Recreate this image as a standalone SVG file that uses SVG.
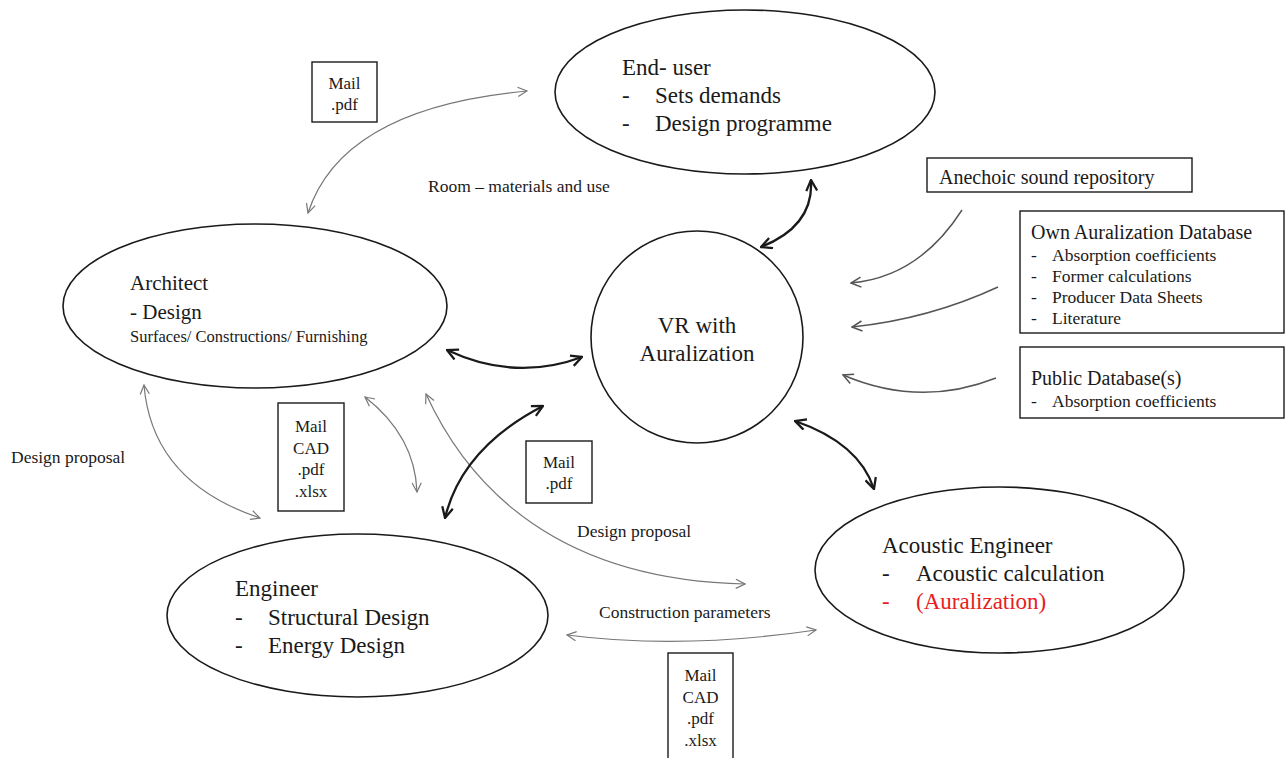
<svg xmlns="http://www.w3.org/2000/svg" width="1285" height="758" viewBox="0 0 1285 758">
<style>
text{font-family:"Liberation Serif","Times New Roman",serif;fill:#1a1a1a}
.big{font-size:23px}
.arch{font-size:21px}
.ttl{font-size:20px}
.med{font-size:17.5px}
.mail{font-size:17px}
.node{fill:none;stroke:#1a1a1a;stroke-width:1.6}
.box{fill:#fff;stroke:#1a1a1a;stroke-width:1.4}
.thin{fill:none;stroke:#777;stroke-width:1.2;marker-start:url(#ht);marker-end:url(#ht)}
.thin1{fill:none;stroke:#555;stroke-width:1.4;marker-end:url(#ht1)}
.thick{fill:none;stroke:#1a1a1a;stroke-width:2.3;marker-start:url(#hk);marker-end:url(#hk)}
</style>
<defs>
<marker id="ht" viewBox="0 0 12 12" refX="11" refY="6" markerWidth="11" markerHeight="11" markerUnits="userSpaceOnUse" orient="auto-start-reverse">
<path d="M1,1 L11,6 L1,11" fill="none" stroke="#777" stroke-width="1.3"/>
</marker>
<marker id="ht1" viewBox="0 0 12 12" refX="11" refY="6" markerWidth="12" markerHeight="12" markerUnits="userSpaceOnUse" orient="auto">
<path d="M1,1 L11,6 L1,11" fill="none" stroke="#555" stroke-width="1.5"/>
</marker>
<marker id="hk" viewBox="0 0 12 12" refX="11" refY="6" markerWidth="13" markerHeight="13" markerUnits="userSpaceOnUse" orient="auto-start-reverse">
<path d="M1,1 L11,6 L1,11" fill="none" stroke="#1a1a1a" stroke-width="2.1"/>
</marker>
</defs>

<g id="connectors">
<path class="thin" d="M308,213 Q342,108 527,91"/>
<path class="thin" d="M144,385 Q152,482 260,518"/>
<path class="thin" d="M365,397 Q415,436 417,492"/>
<path class="thin" d="M426,394 C470,490 560,580 745,584"/>
<path class="thin" d="M567,635 Q682,650 816,630"/>
<path class="thin1" d="M962,210 Q919,277 851,283"/>
<path class="thin1" d="M998,287 Q929,319 852,327"/>
<path class="thin1" d="M996,378 Q920,408 843,375"/>
<path class="thick" d="M811,180 Q814,226 761,247"/>
<path class="thick" d="M447,350 Q515,382 582,357"/>
<path class="thick" d="M445,518 Q462,448 543,406"/>
<path class="thick" d="M795,421 Q859,443 874,489"/>
</g>

<g id="end-user">
<ellipse class="node" cx="745" cy="92" rx="190" ry="82"/>
<text class="big" x="622" y="75">End- user</text>
<text class="big" x="622" y="103">-</text>
<text class="big" x="655" y="103">Sets demands</text>
<text class="big" x="622" y="131">-</text>
<text class="big" x="655" y="131">Design programme</text>
</g>

<g id="mail-top">
<rect class="box" x="312" y="62" width="65" height="60"/>
<text class="mail" x="344.5" y="89" text-anchor="middle">Mail</text>
<text class="mail" x="344.5" y="110" text-anchor="middle">.pdf</text>
</g>

<text class="med" x="428" y="192">Room – materials and use</text>

<g id="architect">
<ellipse class="node" cx="255" cy="306" rx="192" ry="82"/>
<text class="arch" x="130" y="290">Architect</text>
<text class="arch" x="130" y="319"> - Design</text>
<text x="130" y="341.5" style="font-size:16.5px">Surfaces/ Constructions/ Furnishing</text>
</g>

<g id="vr">
<circle class="node" cx="697" cy="337" r="106"/>
<text class="big" x="697" y="333" text-anchor="middle">VR with</text>
<text class="big" x="697" y="361" text-anchor="middle">Auralization</text>
</g>

<g id="anechoic">
<rect class="box" x="927" y="158" width="265" height="34"/>
<text class="ttl" x="939" y="183.5">Anechoic  sound repository</text>
</g>

<g id="own-db">
<rect class="box" x="1020" y="211" width="264" height="122"/>
<text class="ttl" x="1031" y="238.5">Own Auralization  Database</text>
<text class="med" x="1031" y="261">-</text><text class="med" x="1052" y="261">Absorption coefficients</text>
<text class="med" x="1031" y="281.5">-</text><text class="med" x="1052" y="281.5">Former calculations</text>
<text class="med" x="1031" y="302.5">-</text><text class="med" x="1052" y="302.5">Producer Data Sheets</text>
<text class="med" x="1031" y="324">-</text><text class="med" x="1052" y="324">Literature</text>
</g>

<g id="public-db">
<rect class="box" x="1020" y="347" width="264" height="71"/>
<text class="ttl" x="1031" y="384.5">Public  Database(s)</text>
<text class="med" x="1031" y="407">-</text><text class="med" x="1052" y="407">Absorption coefficients</text>
</g>

<text class="med" x="11" y="462.5">Design proposal</text>

<g id="mail-left">
<rect class="box" x="278" y="403" width="66" height="108"/>
<text class="mail" x="311" y="431.5" text-anchor="middle">Mail</text>
<text class="mail" x="311" y="453.5" text-anchor="middle">CAD</text>
<text class="mail" x="311" y="474.5" text-anchor="middle">.pdf</text>
<text class="mail" x="311" y="496.5" text-anchor="middle">.xlsx</text>
</g>

<g id="mail-mid">
<rect class="box" x="526" y="441" width="66" height="62"/>
<text class="mail" x="559" y="467.5" text-anchor="middle">Mail</text>
<text class="mail" x="559" y="488.5" text-anchor="middle">.pdf</text>
</g>

<text class="med" x="577" y="536.5">Design proposal</text>
<text class="med" x="599" y="617.5">Construction parameters</text>

<g id="engineer">
<ellipse class="node" cx="357.5" cy="615.5" rx="190.5" ry="81.5"/>
<text class="big" x="235" y="596">Engineer</text>
<text class="big" x="235" y="625">-</text>
<text class="big" x="268" y="625">Structural Design</text>
<text class="big" x="235" y="653">-</text>
<text class="big" x="268" y="653">Energy Design</text>
</g>

<g id="acoustic">
<ellipse class="node" cx="999.5" cy="570" rx="184.5" ry="83"/>
<text class="big" x="882" y="553">Acoustic  Engineer</text>
<text class="big" x="882" y="581">-</text>
<text class="big" x="916" y="581">Acoustic  calculation</text>
<text class="big" x="882" y="609" style="fill:#e8201c">-</text>
<text class="big" x="916" y="609" style="fill:#e8201c">(Auralization)</text>
</g>

<g id="mail-bottom">
<rect class="box" x="668" y="653" width="65" height="110"/>
<text class="mail" x="700.5" y="680.5" text-anchor="middle">Mail</text>
<text class="mail" x="700.5" y="702.5" text-anchor="middle">CAD</text>
<text class="mail" x="700.5" y="723.5" text-anchor="middle">.pdf</text>
<text class="mail" x="700.5" y="745.5" text-anchor="middle">.xlsx</text>
</g>
</svg>
